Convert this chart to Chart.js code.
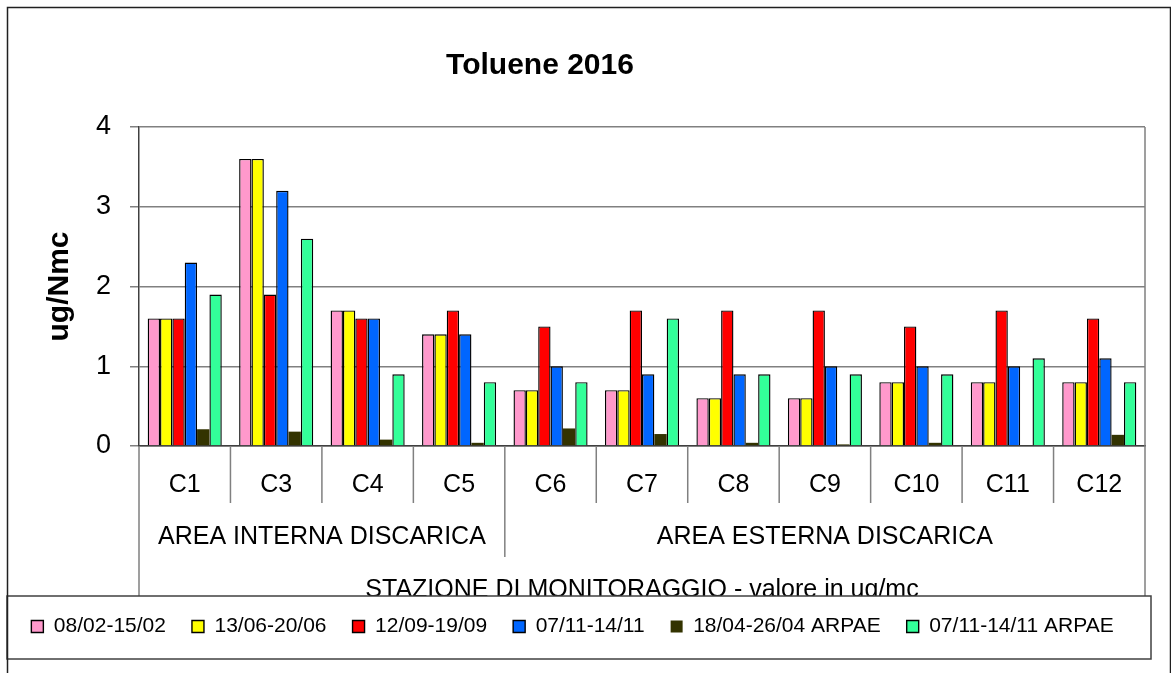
<!DOCTYPE html>
<html>
<head>
<meta charset="utf-8">
<title>Toluene 2016</title>
<script src="https://cdn.jsdelivr.net/npm/chart.js@4.4.1/dist/chart.umd.min.js"></script>
<style>
  html, body { margin: 0; padding: 0; background: #fff; }
  #wrap { width: 1171px; height: 673px; }
</style>
</head>
<body>
<div id="wrap"><canvas id="myChart" width="1171" height="673"></canvas></div>
<script>
const stations = ["C1", "C3", "C4", "C5", "C6", "C7", "C8", "C9", "C10", "C11", "C12"];
const groups = ["AREA INTERNA DISCARICA", "AREA ESTERNA DISCARICA"];
const groupSizes = [4, 7];
const yTicks = [0, 1, 2, 3, 4];

const feb = [1.6, 3.6, 1.7, 1.4, 0.7, 0.7, 0.6, 0.6, 0.8, 0.8, 0.8];
const jun = [1.6, 3.6, 1.7, 1.4, 0.7, 0.7, 0.6, 0.6, 0.8, 0.8, 0.8];
const sep = [1.6, 1.9, 1.6, 1.7, 1.5, 1.7, 1.7, 1.7, 1.5, 1.7, 1.6];
const nov = [2.3, 3.2, 1.6, 1.4, 1.0, 0.9, 0.9, 1.0, 1.0, 1.0, 1.1];
const aprArpae = [0.21, 0.18, 0.08, 0.04, 0.22, 0.15, 0.04, 0.02, 0.04, 0.01, 0.14];
const novArpae = [1.9, 2.6, 0.9, 0.8, 0.8, 1.6, 0.9, 0.9, 0.9, 1.1, 0.8];

const seriesNames = ["08/02-15/02", "13/06-20/06", "12/09-19/09", "07/11-14/11", "18/04-26/04 ARPAE", "07/11-14/11 ARPAE"];
const seriesValues = [feb, jun, sep, nov, aprArpae, novArpae];
const colors = ["#FF99CC", "#FFFF00", "#FF0000", "#0066FF", "#333300", "#33FF99"];

const FONT = '"Liberation Sans", Arial, sans-serif';
Chart.defaults.font.family = FONT;
Chart.defaults.color = "#000";

// where the bottom table and the legend frame sit
const titleCenterX = 540;
const catLineBottom = 503;
const groupLineBottom = 557;
const groupLabelY = 537;
const legendBox = { left: 7, top: 596, right: 1151, bottom: 659 };

const tablePlugin = {
  id: "table",
  afterLayout(chart) {
    const t = chart.titleBlock;
    t.right = 2 * titleCenterX - t.left;
  },
  afterDraw(chart) {
    const { ctx, chartArea } = chart;
    const x = chart.scales.x;
    const step = (x.right - x.left) / stations.length;
    const edge = (i) => x.left + i * step;

    ctx.save();
    ctx.strokeStyle = "#808080";
    ctx.lineWidth = 1.5;
    ctx.beginPath();
    // category dividers
    for (let i = 1; i < stations.length; i++) {
      ctx.moveTo(edge(i), chartArea.bottom);
      ctx.lineTo(edge(i), catLineBottom);
    }
    // group dividers
    let acc = 0;
    for (let k = 0; k < groupSizes.length - 1; k++) {
      acc += groupSizes[k];
      ctx.moveTo(edge(acc), chartArea.bottom);
      ctx.lineTo(edge(acc), groupLineBottom);
    }
    // side lines of the table and plot
    ctx.moveTo(chartArea.left, chartArea.bottom);
    ctx.lineTo(chartArea.left, legendBox.top);
    ctx.moveTo(chartArea.right, chartArea.top);
    ctx.lineTo(chartArea.right, legendBox.top);
    ctx.stroke();

    ctx.fillStyle = "#000";
    ctx.font = "25px " + FONT;
    ctx.textAlign = "center";
    ctx.textBaseline = "middle";
    let start = 0;
    groups.forEach((g, k) => {
      const end = start + groupSizes[k];
      ctx.fillText(g, (edge(start) + edge(end)) / 2, groupLabelY);
      start = end;
    });

    // legend frame, legend drawn again on top of it
    ctx.fillStyle = "#fff";
    ctx.fillRect(legendBox.left, legendBox.top, legendBox.right - legendBox.left, legendBox.bottom - legendBox.top);
    ctx.strokeStyle = "#404040";
    ctx.strokeRect(legendBox.left, legendBox.top, legendBox.right - legendBox.left, legendBox.bottom - legendBox.top);
    ctx.restore();
    chart.legend.draw();

    ctx.save();
    ctx.strokeStyle = "#202020";
    ctx.lineWidth = 1.5;
    ctx.strokeRect(7.5, 7.5, 1163, 720);
    ctx.restore();
  },
};

const chart = new Chart("myChart", {
  type: "bar",
  data: {
    labels: stations,
    datasets: seriesNames.map((name, i) => ({
      label: name,
      data: seriesValues[i],
      backgroundColor: colors[i],
      borderColor: "#000",
      borderWidth: i === 4 ? 0 : 1.4,
      categoryPercentage: 0.81,
      barPercentage: 1.0,
    })),
  },
  options: {
    responsive: false,
    animation: false,
    devicePixelRatio: 1,
    layout: {
      padding: { left: 0, right: 26, top: 0, bottom: 26 },
    },
    plugins: {
      title: {
        display: true,
        text: "Toluene 2016",
        color: "#000",
        font: { size: 30, weight: "bold" },
        padding: { top: 48, bottom: 43 },
      },
      legend: {
        position: "bottom",
        labels: {
          color: "#000",
          font: { size: 21 },
          boxWidth: 12,
          boxHeight: 12,
          padding: 26,
        },
      },
      tooltip: { enabled: false },
    },
    scales: {
      x: {
        offset: true,
        grid: { display: false },
        border: { display: true, color: "#404040", width: 1.5 },
        ticks: {
          color: "#000",
          font: { size: 25 },
          padding: 16,
          maxRotation: 0,
          autoSkip: false,
        },
        title: {
          display: true,
          text: "STAZIONE DI MONITORAGGIO - valore in ug/mc",
          color: "#000",
          font: { size: 25 },
          padding: { top: 0, bottom: -15 },
        },
        afterFit(scale) {
          scale.height = 144;
        },
      },
      y: {
        min: yTicks[0],
        max: yTicks[yTicks.length - 1],
        afterBuildTicks(scale) {
          scale.ticks = yTicks.map((v) => ({ value: v }));
        },
        ticks: {
          color: "#000",
          font: { size: 27 },
          padding: 19,
        },
        grid: {
          color: "#808080",
          lineWidth: 1.5,
          tickLength: 9,
        },
        border: { color: "#404040", width: 1.5 },
        title: {
          display: true,
          text: "ug/Nmc",
          color: "#000",
          font: { size: 30, weight: "bold" },
          padding: { top: 42, bottom: 0 },
        },
        afterFit(scale) {
          scale.width = 139;
        },
      },
    },
  },
  plugins: [tablePlugin],
});
</script>
</body>
</html>
